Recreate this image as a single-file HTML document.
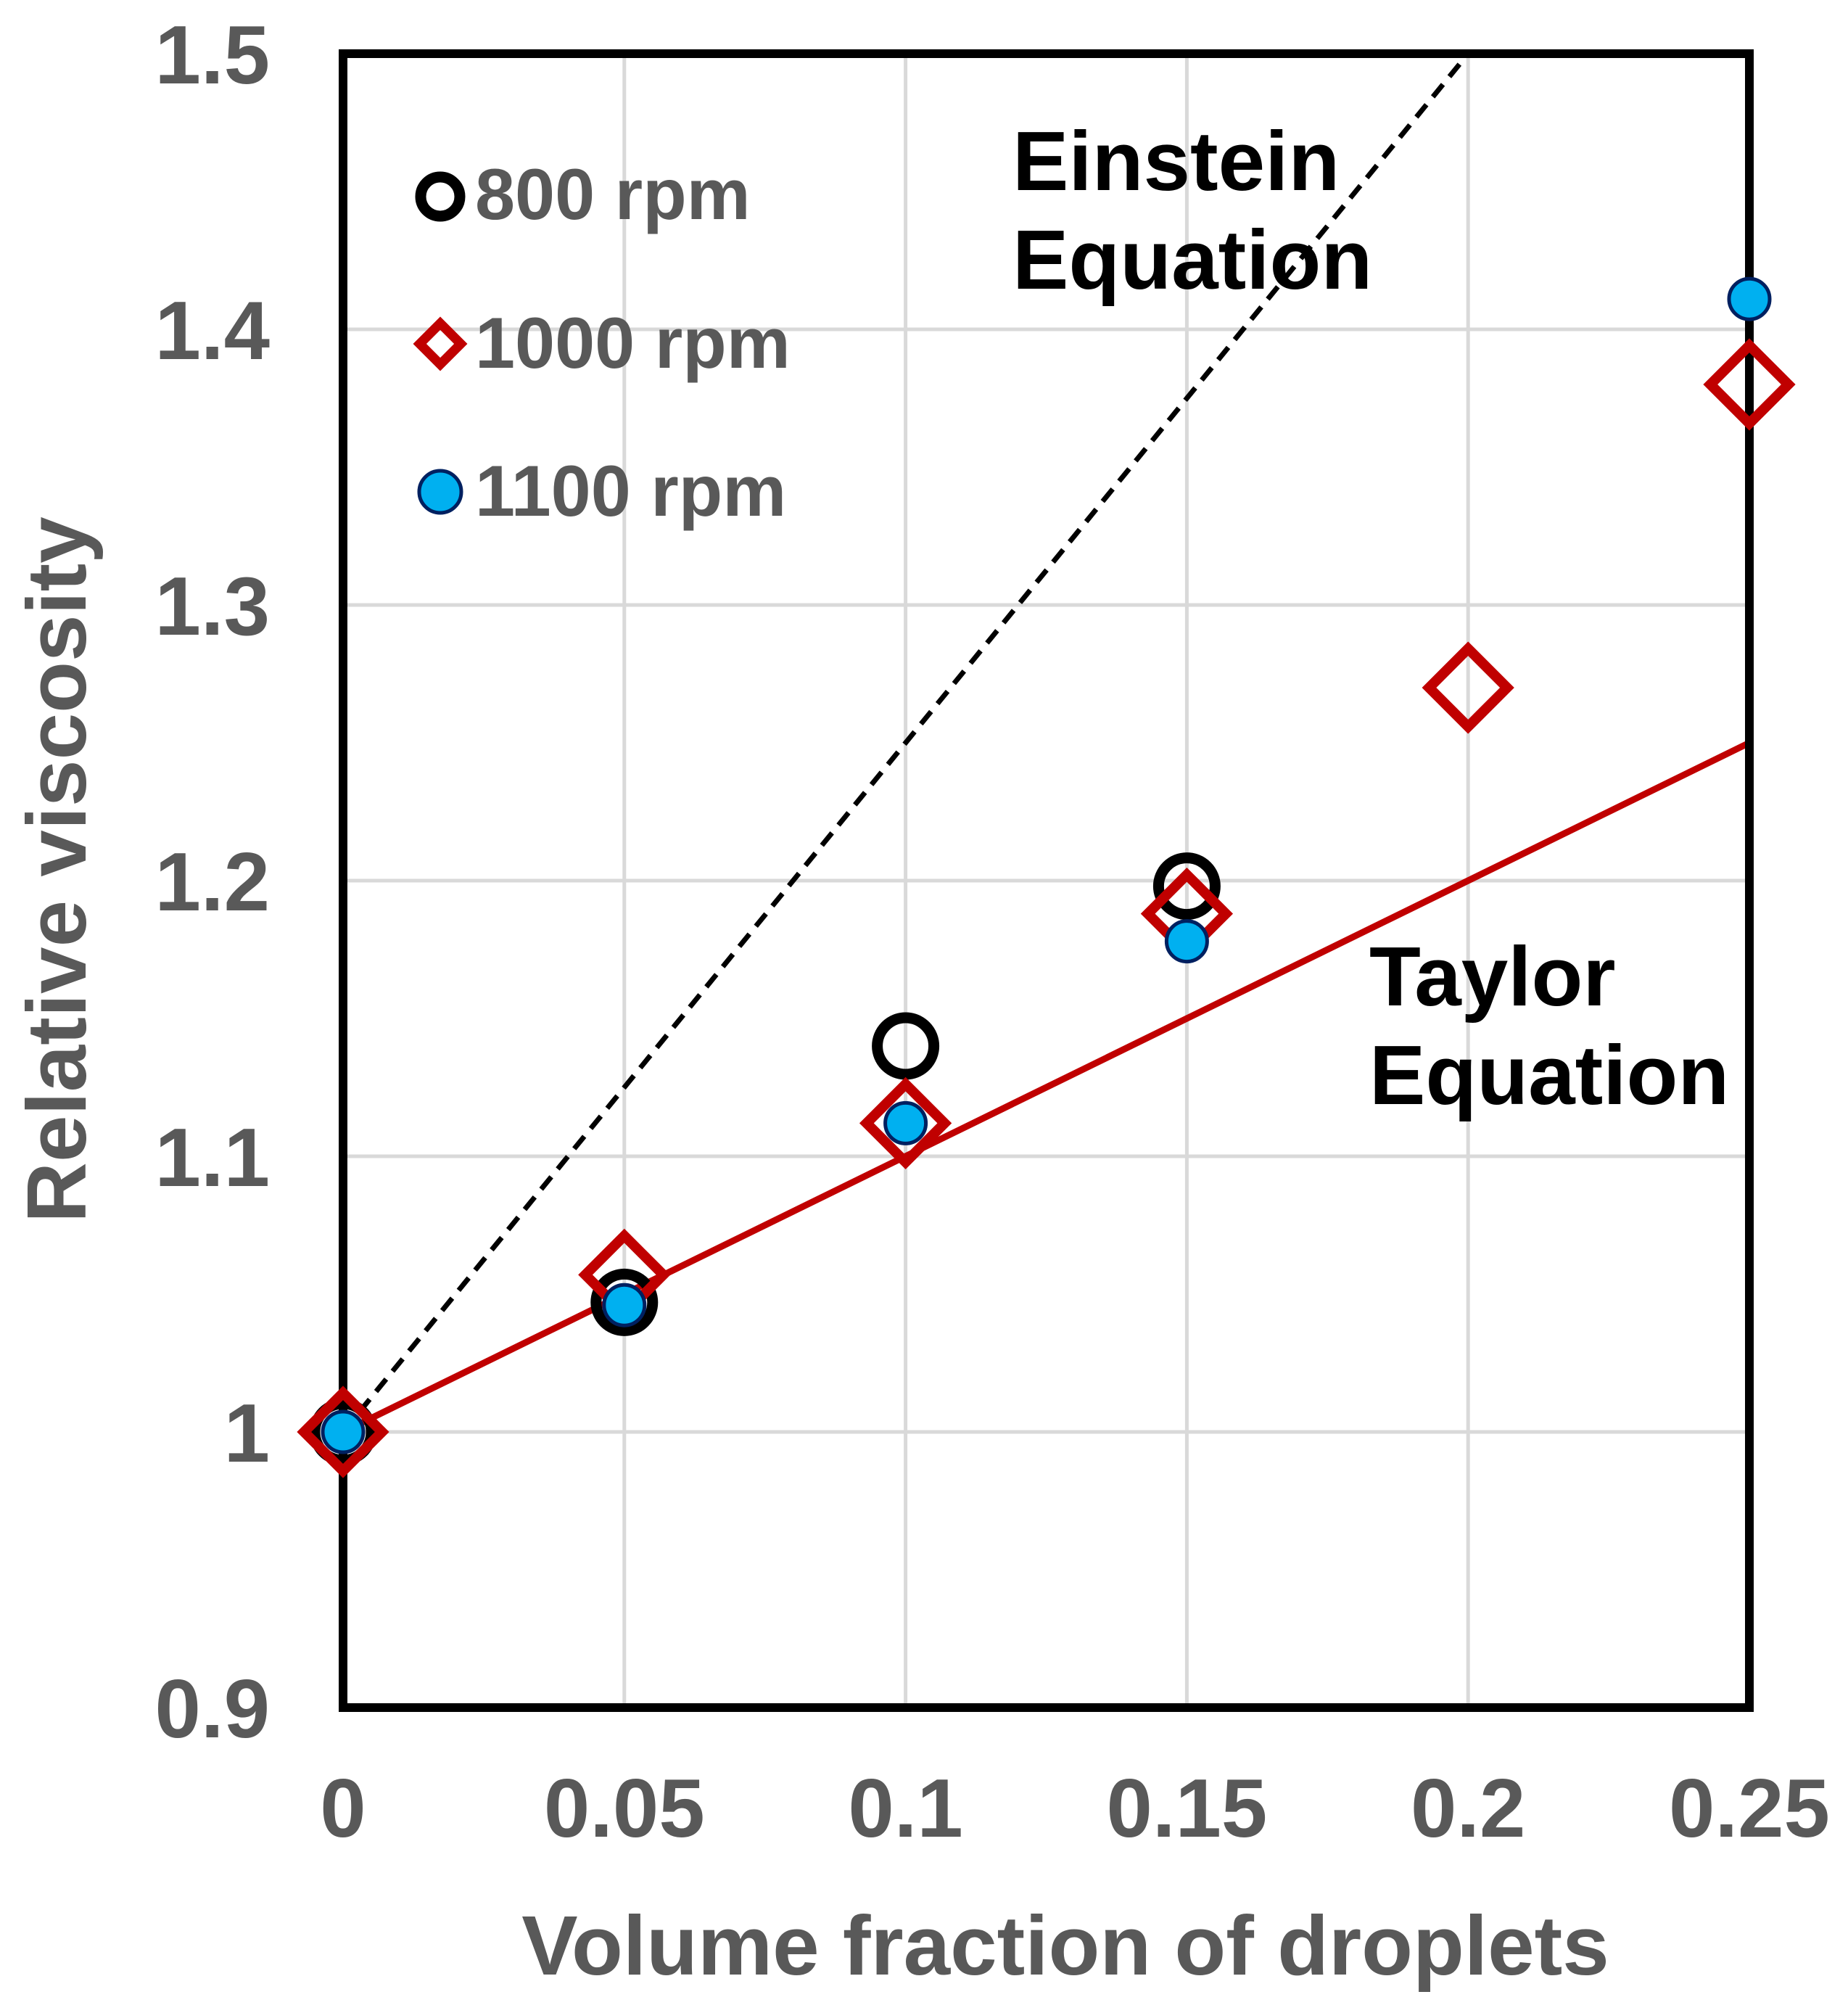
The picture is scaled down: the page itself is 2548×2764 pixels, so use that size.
<!DOCTYPE html>
<html><head><meta charset="utf-8"><style>
html,body{margin:0;padding:0;background:#fff;}
svg{display:block;}
text{font-family:"Liberation Sans",Arial,sans-serif;font-weight:bold;}
</style></head><body>
<svg id="chart" width="2548" height="2764" xmlns="http://www.w3.org/2000/svg">
<g id="grid"></g>
<g id="lines"></g>
<rect x="473" y="74" width="1939" height="2280" fill="none" stroke="#000" stroke-width="12"/>
<g id="marks"></g>
<g id="ticks"></g>
<text x="1469" y="2722" font-size="116" fill="#595959" text-anchor="middle">Volume fraction of droplets</text>
<text transform="translate(118,1199) rotate(-90)" font-size="116" fill="#595959" text-anchor="middle">Relative viscosity</text>
<g>
<circle cx="607" cy="271" r="27" fill="none" stroke="#000" stroke-width="15"/>
<text x="655" y="302" font-size="99" fill="#595959">800 rpm</text>
<rect x="587" y="454" width="40" height="40" transform="rotate(45 607 474)" fill="none" stroke="#c00000" stroke-width="13"/>
<text x="655" y="507" font-size="99" fill="#595959">1000 rpm</text>
<circle cx="607" cy="678" r="29" fill="#00b0f0" stroke="#002060" stroke-width="5"/>
<text x="655" y="711" font-size="99" fill="#595959">1100 rpm</text>
</g>
<text font-size="116" fill="#000"><tspan x="1396" y="262">Einstein</tspan><tspan x="1396" y="398">Equation</tspan></text>
<text font-size="116" fill="#000"><tspan x="1888" y="1386">Taylor</tspan><tspan x="1888" y="1522">Equation</tspan></text>
</svg>
<script>
const xTicks=[0,0.05,0.1,0.15,0.2,0.25];
const xTickLabels=["0","0.05","0.1","0.15","0.2","0.25"];
const yTicks=[0.9,1.0,1.1,1.2,1.3,1.4,1.5];
const yTickLabels=["0.9","1","1.1","1.2","1.3","1.4","1.5"];
const x800=[0,0.05,0.1,0.15];
const y800=[1.0,1.047,1.14,1.198];
const x1000=[0,0.05,0.1,0.15,0.2,0.25];
const y1000=[1.0,1.057,1.112,1.188,1.27,1.38];
const x1100=[0,0.05,0.1,0.15,0.25];
const y1100=[1.0,1.046,1.112,1.178,1.411];
const einsteinCoef=2.5;
const taylorCoef=1.0;
const NS="http://www.w3.org/2000/svg";
const X=v=>473+(v-0)/0.25*1939;
const Y=v=>2354-(v-0.9)/0.6*2280;
function mk(tag,attrs,parent){const e=document.createElementNS(NS,tag);for(const k in attrs)e.setAttribute(k,attrs[k]);document.getElementById(parent).appendChild(e);return e;}
xTicks.forEach((t,i)=>{
 if(i>0&&i<xTicks.length-1){const g=mk('line',{x1:X(t),x2:X(t),y1:74,y2:2354,stroke:'#d9d9d9','stroke-width':5},'grid');
 
 }
 const tx=mk('text',{x:X(t),y:2532,'font-size':114,fill:'#595959','text-anchor':'middle'},'ticks');tx.textContent=xTickLabels[i];
 
 
});
yTicks.forEach((t,i)=>{
 if(i>0&&i<yTicks.length-1){const g=mk('line',{x1:473,x2:2412,y1:Y(t),y2:Y(t),stroke:'#d9d9d9','stroke-width':5},'grid');
 
 }
 const tx=mk('text',{x:372,y:Y(t)+41,'font-size':114,fill:'#595959','text-anchor':'end'},'ticks');tx.textContent=yTickLabels[i];
 
 
});
const phiE=Math.min(0.25,(1.5-1)/einsteinCoef);
const le=mk('line',{x1:X(0),y1:Y(1),x2:X(phiE),y2:Y(1+einsteinCoef*phiE),stroke:'#000','stroke-width':7,'stroke-dasharray':'22 14'},'lines');


const lt=mk('line',{x1:X(0),y1:Y(1),x2:X(0.25),y2:Y(1+taylorCoef*0.25),stroke:'#c00000','stroke-width':9},'lines');


x800.forEach((v,i)=>{const c=mk('circle',{cx:X(v),cy:Y(y800[i]),r:39,fill:'none',stroke:'#000','stroke-width':15},'marks');
 
 });
x1000.forEach((v,i)=>{const cx=X(v),cy=Y(y1000[i]);const s=38;
 const r=mk('rect',{x:cx-s,y:cy-s,width:2*s,height:2*s,transform:`rotate(45 ${cx} ${cy})`,fill:'none',stroke:'#c00000','stroke-width':14},'marks');
 
 });
x1100.forEach((v,i)=>{const c=mk('circle',{cx:X(v),cy:Y(y1100[i]),r:28,fill:'#00b0f0',stroke:'#002060','stroke-width':5},'marks');
 
 });
</script>
</body></html>
